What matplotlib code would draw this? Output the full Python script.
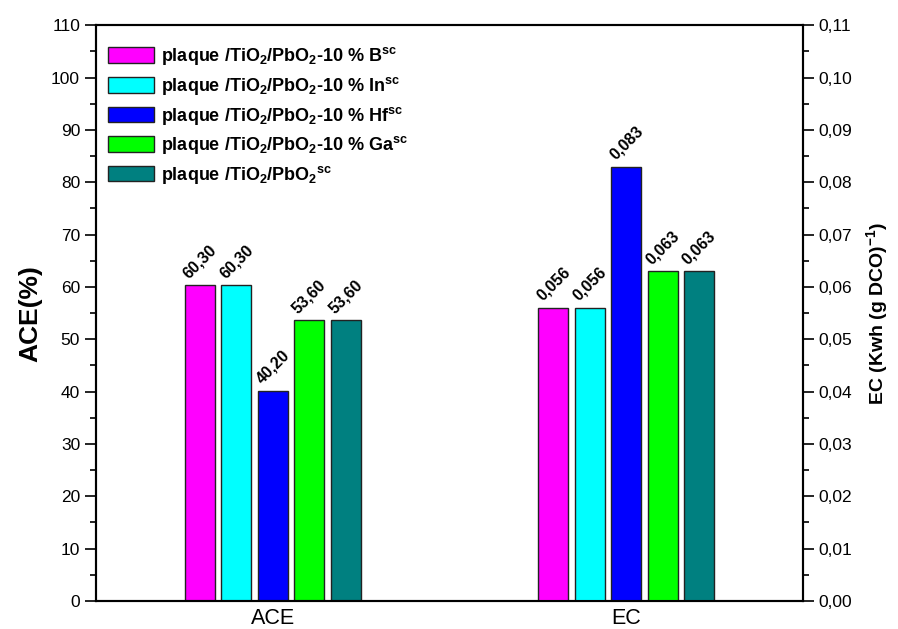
import numpy as np
import matplotlib
matplotlib.use("Agg")
import matplotlib.pyplot as plt
from matplotlib.ticker import MultipleLocator, FuncFormatter

plt.rcParams['font.family'] = ['Liberation Sans', 'DejaVu Sans']
plt.rcParams['mathtext.fontset'] = 'custom'
plt.rcParams['mathtext.rm'] = 'Liberation Sans:bold'
plt.rcParams['mathtext.bf'] = 'Liberation Sans:bold'
plt.rcParams['mathtext.it'] = 'Liberation Sans:bold'

# --- data ---
groups = ['ACE', 'EC']
series_labels = [
    r'plaque /TiO$_2$/PbO$_2$-10 % B$^{sc}$',
    r'plaque /TiO$_2$/PbO$_2$-10 % In$^{sc}$',
    r'plaque /TiO$_2$/PbO$_2$-10 % Hf$^{sc}$',
    r'plaque /TiO$_2$/PbO$_2$-10 % Ga$^{sc}$',
    r'plaque /TiO$_2$/PbO$_2$$^{sc}$',
]
colors = ['#FF00FF', '#00FFFF', '#0000FF', '#00FF00', '#008080']
ace_values = [60.30, 60.30, 40.20, 53.60, 53.60]
ec_values = [0.056, 0.056, 0.083, 0.063, 0.063]
ace_labels = ['60,30', '60,30', '40,20', '53,60', '53,60']
ec_labels = ['0,056', '0,056', '0,083', '0,063', '0,063']

fig = plt.figure(figsize=(8.98, 6.29), dpi=100)
ax = fig.add_axes([0.107, 0.0445, 0.787, 0.9155])
ax2 = ax.twinx()

pitch = 0.103
width = 0.085
offsets = (np.arange(5) - 2) * pitch

handles = []
for i in range(5):
    b = ax.bar(1 + offsets[i], ace_values[i], width, color=colors[i],
               edgecolor='#222222', linewidth=1.0, label=series_labels[i])
    handles.append(b)
    ax.text(1 + offsets[i], ace_values[i] + 0.8, ace_labels[i], rotation=45,
            ha='center', va='bottom', fontsize=11.5, fontweight='bold')
    ax2.bar(2 + offsets[i], ec_values[i], width, color=colors[i],
            edgecolor='#222222', linewidth=1.0)
    ax2.text(2 + offsets[i], ec_values[i] + 0.0008, ec_labels[i], rotation=45,
             ha='center', va='bottom', fontsize=11.5, fontweight='bold')

ax.set_xlim(0.5, 2.5)
ax.set_ylim(0, 110)
ax2.set_ylim(0, 0.11)
ax.set_xticks([1, 2])
ax.set_xticklabels(groups, fontsize=15.5)
ax.tick_params(axis='x', length=0, pad=5)

ax.yaxis.set_major_locator(MultipleLocator(10))
ax.yaxis.set_minor_locator(MultipleLocator(5))
ax2.yaxis.set_major_locator(MultipleLocator(0.01))
ax2.yaxis.set_minor_locator(MultipleLocator(0.005))
ax2.yaxis.set_major_formatter(FuncFormatter(lambda v, p: f'{v:.2f}'.replace('.', ',')))

for a in (ax, ax2):
    a.tick_params(axis='y', which='major', direction='out', length=8, width=1.2, labelsize=12.5)
    a.tick_params(axis='y', which='minor', direction='out', length=4, width=1.2)
    for s in a.spines.values():
        s.set_linewidth(1.5)

ax.set_ylabel('ACE(%)', fontsize=19, fontweight='bold', labelpad=6)
ax2.set_ylabel(r'EC (Kwh (g DCO)$^{-1}$)', fontsize=14, fontweight='bold', labelpad=8)

ax.legend(handles=handles, loc='upper left', bbox_to_anchor=(-0.003, 0.99),
          frameon=False, prop={'weight': 'bold', 'size': 13},
          handlelength=2.55, handleheight=0.95, labelspacing=0.42,
          handletextpad=0.35, borderaxespad=0.4)

fig.savefig('out.png', dpi=100)
